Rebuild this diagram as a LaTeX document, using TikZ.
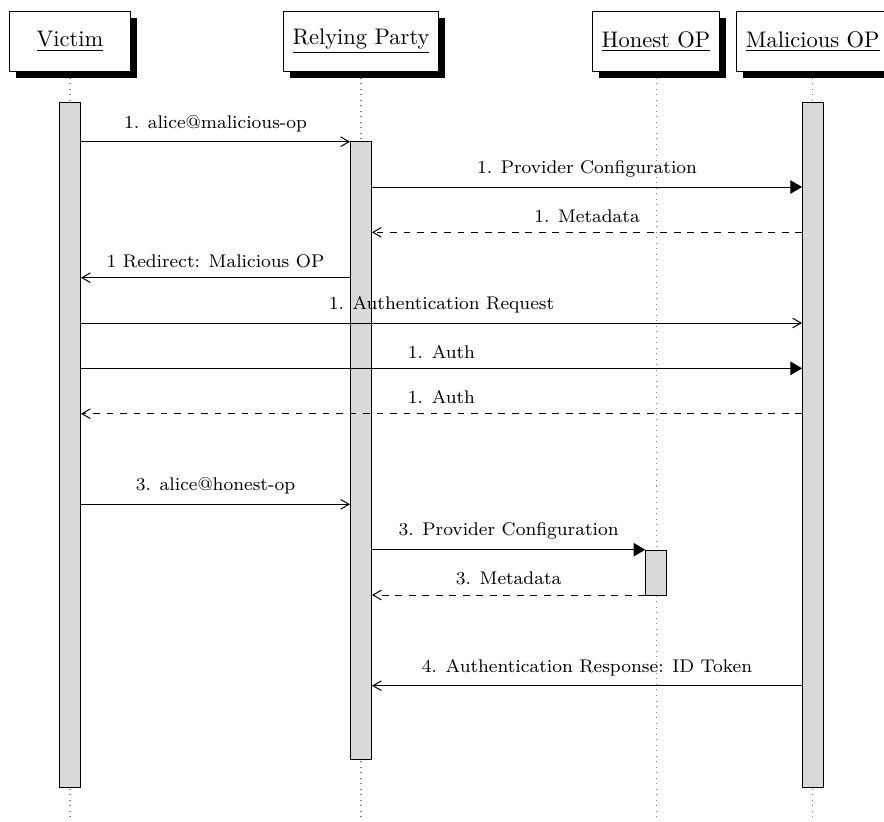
\documentclass[tikz,border=0pt]{standalone}
\usetikzlibrary{arrows.meta,shadows}
\begin{document}
\begin{tikzpicture}[x=0.4444pt,y=-0.4444pt,
  actor/.style={draw, fill=white, line width=0.45pt, minimum width=53.8pt,
    minimum height=26.7pt, inner xsep=4.2pt, font=\normalsize,
    drop shadow={shadow xshift=2.9pt, shadow yshift=-2.9pt, fill=black, opacity=1}},
  lifeline/.style={dotted, gray, line width=0.45pt},
  bar/.style={draw, fill=black!15, line width=0.45pt, inner sep=0pt, minimum width=9.3pt},
  msg/.style={line width=0.45pt, -{Straight Barb[angle=60:4.3pt]}},
  call/.style={line width=0.45pt, -{Triangle[angle=60:6pt]}},
  reply/.style={msg, dashed},
  lbl/.style={anchor=south, yshift=4.2pt, font=\fontsize{8.15}{10}\selectfont, inner sep=0pt}]
\useasboundingbox (0,0) rectangle (884,821);

% lifelines
\coordinate (vEnd) at (70,821);
\coordinate (rEnd) at (361,821);
\coordinate (hEnd) at (656,821);
\coordinate (mEnd) at (812.7,821);
\coordinate (vTop) at (70,72);
\coordinate (rTop) at (361,72);
\coordinate (hTop) at (656,72);
\coordinate (mTop) at (812.7,72);
\draw[lifeline] (vTop) -- (vEnd);
\draw[lifeline] (rTop) -- (rEnd);
\draw[lifeline] (hTop) -- (hEnd);
\draw[lifeline] (mTop) -- (mEnd);

% participants
\node[actor] (victim) at (70,41.7) {\underline{Victim}};
\node[actor] (rp) at (361,41.7) {\underline{Relying Party}};
\node[actor] (hop) at (656,41.7) {\underline{Honest OP}};
\node[actor] (mop) at (812.7,41.7) {\underline{Malicious OP}};

% activation bars
\node[bar, minimum height={685*0.4444pt}] (vb) at (70,444.8) {};
\node[bar, minimum height={617.3*0.4444pt}] (rb) at (361,450.35) {};
\node[bar, minimum height={685*0.4444pt}] (mb) at (813,444.8) {};
\node[bar, minimum height={45*0.4444pt}] (hb) at (656.2,572.5) {};

% message rows
\coordinate (y1) at (0,141.7);
\coordinate (y2) at (0,187);
\coordinate (y3) at (0,232.3);
\coordinate (y4) at (0,277.7);
\coordinate (y5) at (0,323);
\coordinate (y6) at (0,368.3);
\coordinate (y7) at (0,413.7);
\coordinate (y8) at (0,504.3);
\coordinate (y9) at (0,549.7);
\coordinate (y10) at (0,595);
\coordinate (y11) at (0,685.7);

\draw[msg] (vb.east |- y1) -- node[lbl] (l1) {1. alice@malicious-op} (rb.west |- y1);
\draw[call] (rb.east |- y2) -- node[lbl] (l2) {1. Provider Configuration} (mb.west |- y2);
\draw[reply] (mb.west |- y3) -- node[lbl] (l3) {1. Metadata} (rb.east |- y3);
\draw[msg] (rb.west |- y4) -- node[lbl] (l4) {1 Redirect: Malicious OP} (vb.east |- y4);
\draw[msg] (vb.east |- y5) -- node[lbl] (l5) {1. Authentication Request} (mb.west |- y5);
\draw[call] (vb.east |- y6) -- node[lbl] (l6) {1. Auth} (mb.west |- y6);
\draw[reply] (mb.west |- y7) -- node[lbl] (l7) {1. Auth} (vb.east |- y7);
\draw[msg] (vb.east |- y8) -- node[lbl] (l8) {3. alice@honest-op} (rb.west |- y8);
\draw[call] (rb.east |- y9) -- node[lbl] (l9) {3. Provider Configuration} (hb.west |- y9);
\draw[reply] (hb.west |- y10) -- node[lbl] (l10) {3. Metadata} (rb.east |- y10);
\draw[msg] (mb.west |- y11) -- node[lbl] (l11) {4. Authentication Response: ID Token} (rb.east |- y11);
\end{tikzpicture}
\end{document}
